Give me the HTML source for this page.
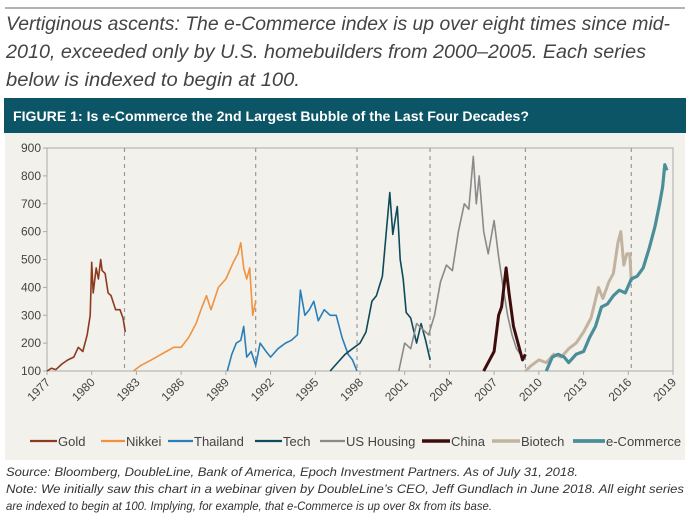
<!DOCTYPE html>
<html><head><meta charset="utf-8"><style>
body{margin:0;background:#fff;width:690px;height:516px;overflow:hidden}
svg{display:block;font-family:"Liberation Sans",sans-serif}
</style></head><body>
<svg id="s" width="690" height="516">
<line x1="5" y1="8" x2="685" y2="8" stroke="#666" stroke-width="1"/>
<g font-style="italic" font-size="19" fill="#444">
<text x="6" y="30" textLength="664" lengthAdjust="spacingAndGlyphs">Vertiginous ascents: The e-Commerce index is up over eight times since mid-</text>
<text x="6" y="58" textLength="640" lengthAdjust="spacingAndGlyphs">2010, exceeded only by U.S. homebuilders from 2000–2005. Each series</text>
<text x="6" y="86" textLength="294" lengthAdjust="spacingAndGlyphs">below is indexed to begin at 100.</text>
</g>
<rect x="4" y="98" width="682" height="35" fill="#0b5566"/>
<text x="13" y="121" fill="#fff" font-weight="bold" font-size="14" textLength="516" lengthAdjust="spacingAndGlyphs">FIGURE 1: Is e-Commerce the 2nd Largest Bubble of the Last Four Decades?</text>
<rect x="5" y="133" width="680" height="327" fill="#f3f1ec"/>
<g id="plot"></g>
<g font-style="italic" font-size="12" fill="#333">
<text x="6" y="476" textLength="572" lengthAdjust="spacingAndGlyphs">Source: Bloomberg, DoubleLine, Bank of America, Epoch Investment Partners. As of July 31, 2018.</text>
<text x="6" y="493" textLength="678" lengthAdjust="spacingAndGlyphs">Note: We initially saw this chart in a webinar given by DoubleLine’s CEO, Jeff Gundlach in June 2018. All eight series</text>
<text x="6" y="510" textLength="486" lengthAdjust="spacingAndGlyphs">are indexed to begin at 100. Implying, for example, that e-Commerce is up over 8x from its base.</text>
</g>
</svg>
<script>
const yTicks=[100,200,300,400,500,600,700,800,900];
const xTicks=[1977,1980,1983,1986,1989,1992,1995,1998,2001,2004,2007,2010,2013,2016,2019];
const dashYears=[1982.2,1991.0,1997.8,2002.7,2009.1,2016.2];
const seriesNames=["Gold","Nikkei","Thailand","Tech","US Housing","China","Biotech","e-Commerce"];
const goldX=[1977,1977.3,1977.6,1978,1978.4,1978.8,1979.1,1979.4,1979.7,1979.9,1980.0,1980.1,1980.3,1980.45,1980.6,1980.7,1980.9,1981.1,1981.3,1981.6,1981.9,1982.1,1982.25];
const goldY=[100,110,105,125,140,150,185,170,230,300,490,380,470,430,500,460,450,380,370,320,320,290,240];
const nikkeiX=[1982.8,1983.3,1984,1984.5,1985,1985.5,1986,1986.5,1987,1987.4,1987.7,1988,1988.5,1989,1989.5,1989.8,1990.0,1990.2,1990.4,1990.6,1990.8,1991.0];
const nikkeiY=[100,120,140,155,170,185,185,220,270,330,370,320,400,430,490,520,560,470,430,470,300,350];
const thaiX=[1989.1,1989.4,1989.7,1990.0,1990.2,1990.4,1990.7,1991.0,1991.3,1991.7,1992,1992.5,1993,1993.4,1993.8,1994.0,1994.3,1994.6,1994.9,1995.2,1995.6,1996.0,1996.4,1996.8,1997.2,1997.5,1997.8];
const thaiY=[100,160,200,210,260,150,170,120,200,170,150,180,200,210,230,390,300,320,350,280,320,300,300,220,160,140,100];
const techX=[1996,1996.5,1997,1997.5,1998,1998.4,1998.8,1999.1,1999.5,1999.8,2000.0,2000.2,2000.35,2000.5,2000.7,2000.9,2001.1,2001.4,2001.8,2002.1,2002.4,2002.7];
const techY=[100,130,160,180,200,240,350,370,440,620,740,590,640,690,500,430,310,290,200,270,210,140];
const housingX=[2000.6,2001.0,2001.4,2001.8,2002.2,2002.6,2003.0,2003.4,2003.8,2004.2,2004.6,2005.0,2005.3,2005.6,2005.8,2006.0,2006.3,2006.6,2007.0,2007.3,2007.6,2007.9,2008.2,2008.5,2008.9];
const housingY=[100,200,180,270,250,230,300,420,480,460,600,700,680,870,700,800,600,520,640,510,400,300,230,180,150];
const chinaX=[2006.3,2006.6,2007.0,2007.3,2007.5,2007.8,2008.0,2008.3,2008.6,2008.9,2009.1];
const chinaY=[100,130,170,300,330,470,380,260,200,140,160];
const biotechX=[2009.1,2009.5,2010,2010.5,2011,2011.5,2012,2012.5,2013,2013.5,2014.0,2014.3,2014.7,2015.0,2015.3,2015.5,2015.7,2015.9,2016.1,2016.2];
const biotechY=[100,120,140,130,160,150,180,200,240,290,400,360,420,450,560,600,480,520,520,420];
const ecomX=[2010.5,2010.9,2011.3,2011.7,2012,2012.5,2013,2013.4,2013.8,2014.2,2014.6,2015.0,2015.4,2015.8,2016.2,2016.6,2017.0,2017.4,2017.8,2018.1,2018.3,2018.45,2018.6];
const ecomY=[100,150,160,150,130,160,170,220,260,330,340,370,390,380,430,440,470,540,620,700,760,840,820];
const seriesX=[goldX,nikkeiX,thaiX,techX,housingX,chinaX,biotechX,ecomX];
const seriesY=[goldY,nikkeiY,thaiY,techY,housingY,chinaY,biotechY,ecomY];
const colors=["#8b3a1e","#ef9340","#2a7fb8","#0d4a5a","#8a8a8a","#3d0d0d","#c2b2a0","#4a8e98"];
const widths=[1.6,1.6,1.6,1.6,1.6,3,3,3.2];
const X0=47,X1=673,Y0=371,Y1=148;
const x=v=>X0+(v-1977)*(X1-X0)/42;
const y=v=>Y0-(v-100)*(Y0-Y1)/800;
const NS="http://www.w3.org/2000/svg";
const plot=document.getElementById('plot');
function mk(t,a,p){const e=document.createElementNS(NS,t);for(const k in a)e.setAttribute(k,a[k]);(p||plot).appendChild(e);return e;}
const frame=mk('rect',{x:X0,y:Y1,width:X1-X0,height:Y0-Y1,fill:'none',stroke:'#aaa','stroke-width':1});


yTicks.forEach(v=>{
 const t=mk('text',{x:X0-6,y:y(v)+4,'text-anchor':'end','font-size':12,fill:'#444'});t.textContent=v;
 
 
 mk('line',{x1:X0-4,x2:X0,y1:y(v),y2:y(v),stroke:'#aaa'});
});
xTicks.forEach(v=>{
 const xx=x(v);
 mk('line',{x1:xx,x2:xx,y1:Y0,y2:Y0+4,stroke:'#aaa'});
 const t=mk('text',{x:xx+4,y:Y0+12,'text-anchor':'end','font-size':12,fill:'#444',transform:`rotate(-45 ${xx+4} ${Y0+12})`});t.textContent=v;
 
 
});
dashYears.forEach(v=>{
 const l=mk('line',{x1:x(v),x2:x(v),y1:Y1,y2:Y0,stroke:'#999','stroke-dasharray':'4,4','stroke-width':1.2});
 
 
});
seriesX.forEach((xs,i)=>{
 const d=xs.map((v,j)=>(j?'L':'M')+x(v).toFixed(1)+' '+y(seriesY[i][j]).toFixed(1)).join(' ');
 const p=mk('path',{d:d,fill:'none',stroke:colors[i],'stroke-width':widths[i],'stroke-linejoin':'round'});
 
 
});
const legX=[30,101,168,255,320,422,492,573];
const legW=[27,24,25,27,25,28,28,32];
seriesNames.forEach((n,i)=>{
 const g=mk('g',{});
 
 
 mk('line',{x1:legX[i],x2:legX[i]+legW[i],y1:441,y2:441,stroke:colors[i],'stroke-width':widths[i]+0.6},g);
 const t=mk('text',{x:legX[i]+legW[i]+1,y:446,'font-size':13,fill:'#444'},g);t.textContent=n;
});
</script>
</body></html>
